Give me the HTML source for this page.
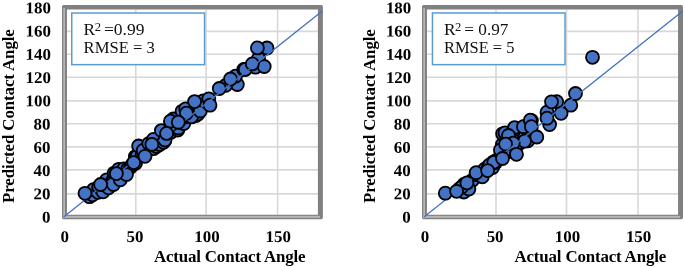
<!DOCTYPE html>
<html><head><meta charset="utf-8"><title>Predicted vs Actual Contact Angle</title>
<style>
html,body{margin:0;padding:0;background:#fff;}
svg{display:block;}
text{font-family:"Liberation Serif","Times New Roman",serif;fill:#000;}
.b{font-weight:bold;font-size:16.3px;}
.n{letter-spacing:0px;}
.t{font-size:16.6px;fill:#111;}
.m{fill:#4472c4;stroke:#000;stroke-width:1.8;}
.g{stroke:#d8d8d8;stroke-width:1.6;fill:none;}
</style></head><body>
<svg width="685" height="267" viewBox="0 0 685 267">
<rect width="685" height="267" fill="#fff"/>

<line class="g" x1="66.45" x2="317.90" y1="31.40" y2="31.40"/>
<line class="g" x1="66.45" x2="317.90" y1="54.30" y2="54.30"/>
<line class="g" x1="66.45" x2="317.90" y1="77.30" y2="77.30"/>
<line class="g" x1="66.45" x2="317.90" y1="100.90" y2="100.90"/>
<line class="g" x1="66.45" x2="317.90" y1="123.80" y2="123.80"/>
<line class="g" x1="66.45" x2="317.90" y1="146.90" y2="146.90"/>
<line class="g" x1="66.45" x2="317.90" y1="169.90" y2="169.90"/>
<line class="g" x1="66.45" x2="317.90" y1="193.90" y2="193.90"/>
<line class="g" x1="135.75" x2="135.75" y1="9.60" y2="214.70"/>
<line class="g" x1="206.10" x2="206.10" y1="9.60" y2="214.70"/>
<line class="g" x1="277.60" x2="277.60" y1="9.60" y2="214.70"/>
<path fill="#808080" fill-rule="evenodd" d="M63.60 5.10 H321.30 Q322.90 5.10 322.90 6.70 V217.55 Q322.90 219.15 321.30 219.15 H63.60 Q62.00 219.15 62.00 217.55 V6.70 Q62.00 5.10 63.60 5.10 Z M66.95 9.60 H317.90 V214.70 H66.95 Z"/>
<rect x="63.25" y="7.80" width="1.75" height="209.80" fill="#b6b6b6"/>
<rect x="63.25" y="215.90" width="256.75" height="1.95" fill="#b6b6b6"/>
<rect x="71.75" y="13.05" width="132.80" height="51.60" fill="#fff" stroke="#5b9bd5" stroke-width="1.5"/>
<text class="t" style="font-size:17.3px" x="83.6" y="34.8">R<tspan style="font-size:12.6px" dy="-4.3" dx="-0.5">2</tspan><tspan dy="4.3" dx="-1.3" style="font-size:17.5px"> =0.99</tspan></text>
<text class="t" x="83.6" y="53.4">RMSE = 3</text>
<circle class="m" cx="89.5" cy="196.7" r="6.5"/>
<circle class="m" cx="92.6" cy="194.8" r="6.5"/>
<circle class="m" cx="93.4" cy="189.7" r="6.5"/>
<circle class="m" cx="98.1" cy="192.3" r="6.5"/>
<circle class="m" cx="98.7" cy="186.9" r="6.5"/>
<circle class="m" cx="103.4" cy="185.1" r="6.5"/>
<circle class="m" cx="105.8" cy="183.3" r="6.5"/>
<circle class="m" cx="106.7" cy="179.8" r="6.5"/>
<circle class="m" cx="112.2" cy="181.3" r="6.5"/>
<circle class="m" cx="114.1" cy="178.8" r="6.5"/>
<circle class="m" cx="114.2" cy="173.1" r="6.5"/>
<circle class="m" cx="119.0" cy="173.6" r="6.5"/>
<circle class="m" cx="118.7" cy="169.3" r="6.5"/>
<circle class="m" cx="123.9" cy="168.8" r="6.5"/>
<circle class="m" cx="127.9" cy="168.9" r="6.5"/>
<circle class="m" cx="130.7" cy="167.1" r="6.5"/>
<circle class="m" cx="132.3" cy="164.8" r="6.5"/>
<circle class="m" cx="135.5" cy="163.3" r="6.5"/>
<circle class="m" cx="135.4" cy="156.6" r="6.5"/>
<circle class="m" cx="137.3" cy="156.0" r="6.5"/>
<circle class="m" cx="142.1" cy="154.0" r="6.5"/>
<circle class="m" cx="143.6" cy="151.7" r="6.5"/>
<circle class="m" cx="146.3" cy="150.2" r="6.5"/>
<circle class="m" cx="149.5" cy="149.3" r="6.5"/>
<circle class="m" cx="153.7" cy="148.6" r="6.5"/>
<circle class="m" cx="156.5" cy="146.5" r="6.5"/>
<circle class="m" cx="159.7" cy="144.5" r="6.5"/>
<circle class="m" cx="158.7" cy="138.6" r="6.5"/>
<circle class="m" cx="164.7" cy="140.3" r="6.5"/>
<circle class="m" cx="165.8" cy="136.2" r="6.5"/>
<circle class="m" cx="166.7" cy="132.6" r="6.5"/>
<circle class="m" cx="170.9" cy="132.2" r="6.5"/>
<circle class="m" cx="170.6" cy="128.2" r="6.5"/>
<circle class="m" cx="177.8" cy="130.1" r="6.5"/>
<circle class="m" cx="178.4" cy="128.0" r="6.5"/>
<circle class="m" cx="178.9" cy="122.3" r="6.5"/>
<circle class="m" cx="183.8" cy="123.5" r="6.5"/>
<circle class="m" cx="184.4" cy="117.1" r="6.5"/>
<circle class="m" cx="186.6" cy="115.3" r="6.5"/>
<circle class="m" cx="190.5" cy="114.6" r="6.5"/>
<circle class="m" cx="195.9" cy="115.6" r="6.5"/>
<circle class="m" cx="198.0" cy="114.1" r="6.5"/>
<circle class="m" cx="196.6" cy="107.6" r="6.5"/>
<circle class="m" cx="199.5" cy="105.0" r="6.5"/>
<circle class="m" cx="103.0" cy="191.8" r="6.5"/>
<circle class="m" cx="108.5" cy="187.8" r="6.5"/>
<circle class="m" cx="113.5" cy="184.5" r="6.5"/>
<circle class="m" cx="120.3" cy="179.8" r="6.5"/>
<circle class="m" cx="126.5" cy="174.5" r="6.5"/>
<circle class="m" cx="138.6" cy="146.0" r="6.5"/>
<circle class="m" cx="143.2" cy="150.4" r="6.5"/>
<circle class="m" cx="148.8" cy="143.6" r="6.5"/>
<circle class="m" cx="153.4" cy="139.4" r="6.5"/>
<circle class="m" cx="161.4" cy="130.6" r="6.5"/>
<circle class="m" cx="163.6" cy="142.3" r="6.5"/>
<circle class="m" cx="165.0" cy="140.0" r="6.5"/>
<circle class="m" cx="170.9" cy="124.8" r="6.5"/>
<circle class="m" cx="173.3" cy="119.0" r="6.5"/>
<circle class="m" cx="170.4" cy="121.2" r="6.5"/>
<circle class="m" cx="182.0" cy="111.3" r="6.5"/>
<circle class="m" cx="185.7" cy="108.8" r="6.5"/>
<circle class="m" cx="191.5" cy="116.9" r="6.5"/>
<circle class="m" cx="200.3" cy="111.0" r="6.5"/>
<circle class="m" cx="203.2" cy="100.8" r="6.5"/>
<circle class="m" cx="208.8" cy="98.8" r="6.5"/>
<circle class="m" cx="267.0" cy="48.0" r="6.5"/>
<circle class="m" cx="255.4" cy="67.2" r="6.5"/>
<circle class="m" cx="237.3" cy="84.5" r="6.5"/>
<circle class="m" cx="225.8" cy="85.3" r="6.5"/>
<circle class="m" cx="235.5" cy="76.2" r="6.5"/>
<circle class="m" cx="258.5" cy="58.5" r="6.5"/>
<circle class="m" cx="264.2" cy="66.5" r="6.5"/>
<circle class="m" cx="243.8" cy="69.4" r="6.5"/>
<circle class="m" cx="186.4" cy="113.2" r="6.5"/>
<circle class="m" cx="194.6" cy="101.6" r="6.5"/>
<circle class="m" cx="210.0" cy="105.2" r="6.5"/>
<circle class="m" cx="219.3" cy="88.5" r="6.5"/>
<circle class="m" cx="230.5" cy="79.0" r="6.5"/>
<circle class="m" cx="245.2" cy="69.4" r="6.5"/>
<circle class="m" cx="252.3" cy="63.9" r="6.5"/>
<circle class="m" cx="257.4" cy="47.9" r="6.5"/>
<line x1="64.20" y1="216.60" x2="322.00" y2="11.30" stroke="#4472c4" stroke-width="1.3" stroke-linecap="round"/>
<circle class="m" cx="85.0" cy="193.3" r="6.5"/>
<circle class="m" cx="100.6" cy="184.5" r="6.5"/>
<circle class="m" cx="116.4" cy="173.6" r="6.5"/>
<circle class="m" cx="133.7" cy="162.6" r="6.5"/>
<circle class="m" cx="145.0" cy="156.3" r="6.5"/>
<circle class="m" cx="151.9" cy="144.4" r="6.5"/>
<circle class="m" cx="166.6" cy="133.4" r="6.5"/>
<circle class="m" cx="178.3" cy="122.2" r="6.5"/>
<text class="b n" text-anchor="end" transform="translate(50.35,222.60) rotate(0.03) scale(1.04,1)">0</text>
<text class="b n" text-anchor="end" transform="translate(50.35,199.35) rotate(0.03) scale(1.04,1)">20</text>
<text class="b n" text-anchor="end" transform="translate(50.35,176.10) rotate(0.03) scale(1.04,1)">40</text>
<text class="b n" text-anchor="end" transform="translate(50.35,152.85) rotate(0.03) scale(1.04,1)">60</text>
<text class="b n" text-anchor="end" transform="translate(50.35,129.60) rotate(0.03) scale(1.04,1)">80</text>
<text class="b n" text-anchor="end" transform="translate(50.90,106.35) rotate(0.03) scale(1.04,1)">100</text>
<text class="b n" text-anchor="end" transform="translate(50.90,83.10) rotate(0.03) scale(1.04,1)">120</text>
<text class="b n" text-anchor="end" transform="translate(50.90,59.85) rotate(0.03) scale(1.04,1)">140</text>
<text class="b n" text-anchor="end" transform="translate(50.90,36.60) rotate(0.03) scale(1.04,1)">160</text>
<text class="b n" text-anchor="end" transform="translate(50.90,13.35) rotate(0.03) scale(1.04,1)">180</text>
<text class="b n" text-anchor="middle" transform="translate(64.80,242.00) rotate(0.03) scale(1.04,1)">0</text>
<text class="b n" text-anchor="middle" transform="translate(135.00,242.00) rotate(0.03) scale(1.04,1)">50</text>
<text class="b n" text-anchor="middle" transform="translate(207.00,242.00) rotate(0.03) scale(1.04,1)">100</text>
<text class="b n" text-anchor="middle" transform="translate(278.30,242.00) rotate(0.03) scale(1.04,1)">150</text>
<text class="b" style="font-size:16.9px" x="153.90" y="262" textLength="151.7" lengthAdjust="spacing">Actual Contact Angle</text>
<text class="b" style="font-size:16.9px" transform="translate(14.40,202.95) rotate(-90)" textLength="173.8" lengthAdjust="spacing">Predicted Contact Angle</text>
<line class="g" x1="426.45" x2="678.05" y1="31.40" y2="31.40"/>
<line class="g" x1="426.45" x2="678.05" y1="54.30" y2="54.30"/>
<line class="g" x1="426.45" x2="678.05" y1="77.30" y2="77.30"/>
<line class="g" x1="426.45" x2="678.05" y1="100.90" y2="100.90"/>
<line class="g" x1="426.45" x2="678.05" y1="123.80" y2="123.80"/>
<line class="g" x1="426.45" x2="678.05" y1="146.90" y2="146.90"/>
<line class="g" x1="426.45" x2="678.05" y1="169.90" y2="169.90"/>
<line class="g" x1="426.45" x2="678.05" y1="193.90" y2="193.90"/>
<line class="g" x1="496.00" x2="496.00" y1="9.60" y2="214.70"/>
<line class="g" x1="566.50" x2="566.50" y1="9.60" y2="214.70"/>
<line class="g" x1="638.00" x2="638.00" y1="9.60" y2="214.70"/>
<path fill="#808080" fill-rule="evenodd" d="M423.60 5.10 H681.40 Q683.00 5.10 683.00 6.70 V217.55 Q683.00 219.15 681.40 219.15 H423.60 Q422.00 219.15 422.00 217.55 V6.70 Q422.00 5.10 423.60 5.10 Z M426.95 9.60 H678.05 V214.70 H426.95 Z"/>
<rect x="423.25" y="7.80" width="1.75" height="209.80" fill="#b6b6b6"/>
<rect x="423.25" y="215.90" width="256.85" height="1.95" fill="#b6b6b6"/>
<rect x="432.45" y="12.95" width="132.60" height="51.70" fill="#fff" stroke="#5b9bd5" stroke-width="1.5"/>
<text class="t" style="font-size:17.3px" x="444.0" y="34.8">R<tspan style="font-size:12.6px" dy="-4.3" dx="-0.5">2</tspan><tspan dy="4.3" dx="-1.3" style="font-size:17.2px"> = 0.97</tspan></text>
<text class="t" style="font-size:16.45px" x="444.0" y="53.4">RMSE = 5</text>
<circle class="m" cx="459.3" cy="188.9" r="6.5"/>
<circle class="m" cx="463.9" cy="184.5" r="6.5"/>
<circle class="m" cx="467.7" cy="183.7" r="6.5"/>
<circle class="m" cx="472.4" cy="180.2" r="6.5"/>
<circle class="m" cx="477.0" cy="174.7" r="6.5"/>
<circle class="m" cx="480.1" cy="172.7" r="6.5"/>
<circle class="m" cx="484.7" cy="169.2" r="6.5"/>
<circle class="m" cx="488.5" cy="166.3" r="6.5"/>
<circle class="m" cx="493.3" cy="162.1" r="6.5"/>
<circle class="m" cx="496.4" cy="160.3" r="6.5"/>
<circle class="m" cx="502.4" cy="144.5" r="6.5"/>
<circle class="m" cx="507.1" cy="143.3" r="6.5"/>
<circle class="m" cx="506.5" cy="138.6" r="6.5"/>
<circle class="m" cx="511.5" cy="140.7" r="6.5"/>
<circle class="m" cx="513.6" cy="139.5" r="6.5"/>
<circle class="m" cx="514.4" cy="133.5" r="6.5"/>
<circle class="m" cx="518.8" cy="134.3" r="6.5"/>
<circle class="m" cx="520.8" cy="131.7" r="6.5"/>
<circle class="m" cx="525.2" cy="132.4" r="6.5"/>
<circle class="m" cx="523.5" cy="126.9" r="6.5"/>
<circle class="m" cx="510.6" cy="151.6" r="6.5"/>
<circle class="m" cx="511.0" cy="147.8" r="6.5"/>
<circle class="m" cx="513.9" cy="145.0" r="6.5"/>
<circle class="m" cx="516.2" cy="143.4" r="6.5"/>
<circle class="m" cx="519.9" cy="143.1" r="6.5"/>
<circle class="m" cx="521.8" cy="140.3" r="6.5"/>
<circle class="m" cx="524.3" cy="136.3" r="6.5"/>
<circle class="m" cx="528.9" cy="138.3" r="6.5"/>
<circle class="m" cx="463.8" cy="192.0" r="6.5"/>
<circle class="m" cx="468.9" cy="189.0" r="6.5"/>
<circle class="m" cx="461.7" cy="187.1" r="6.5"/>
<circle class="m" cx="466.9" cy="182.9" r="6.5"/>
<circle class="m" cx="482.3" cy="176.8" r="6.5"/>
<circle class="m" cx="492.6" cy="167.5" r="6.5"/>
<circle class="m" cx="495.7" cy="162.6" r="6.5"/>
<circle class="m" cx="489.8" cy="164.8" r="6.5"/>
<circle class="m" cx="493.8" cy="162.4" r="6.5"/>
<circle class="m" cx="504.0" cy="152.0" r="6.5"/>
<circle class="m" cx="500.4" cy="149.9" r="6.5"/>
<circle class="m" cx="502.6" cy="133.8" r="6.5"/>
<circle class="m" cx="505.0" cy="132.9" r="6.5"/>
<circle class="m" cx="509.9" cy="138.2" r="6.5"/>
<circle class="m" cx="512.9" cy="132.4" r="6.5"/>
<circle class="m" cx="514.6" cy="127.6" r="6.5"/>
<circle class="m" cx="514.3" cy="144.8" r="6.5"/>
<circle class="m" cx="516.4" cy="144.3" r="6.5"/>
<circle class="m" cx="523.4" cy="126.7" r="6.5"/>
<circle class="m" cx="531.4" cy="120.6" r="6.5"/>
<circle class="m" cx="530.3" cy="120.2" r="6.5"/>
<circle class="m" cx="527.8" cy="140.8" r="6.5"/>
<circle class="m" cx="524.5" cy="141.2" r="6.5"/>
<circle class="m" cx="512.0" cy="139.0" r="6.5"/>
<circle class="m" cx="508.5" cy="135.5" r="6.5"/>
<circle class="m" cx="513.2" cy="143.1" r="6.5"/>
<circle class="m" cx="549.6" cy="124.6" r="6.5"/>
<circle class="m" cx="547.0" cy="112.2" r="6.5"/>
<circle class="m" cx="556.7" cy="101.7" r="6.5"/>
<circle class="m" cx="570.8" cy="105.2" r="6.5"/>
<circle class="m" cx="516.5" cy="154.3" r="6.5"/>
<circle class="m" cx="505.6" cy="144.1" r="6.5"/>
<circle class="m" cx="531.4" cy="126.7" r="6.5"/>
<circle class="m" cx="536.8" cy="137.0" r="6.5"/>
<circle class="m" cx="547.0" cy="118.2" r="6.5"/>
<circle class="m" cx="551.5" cy="101.8" r="6.5"/>
<circle class="m" cx="561.1" cy="113.3" r="6.5"/>
<circle class="m" cx="575.5" cy="93.5" r="6.5"/>
<circle class="m" cx="592.5" cy="57.3" r="6.5"/>
<line x1="424.60" y1="216.50" x2="682.50" y2="11.20" stroke="#4472c4" stroke-width="1.3" stroke-linecap="round"/>
<circle class="m" cx="445.3" cy="193.2" r="6.5"/>
<circle class="m" cx="456.6" cy="191.3" r="6.5"/>
<circle class="m" cx="476.1" cy="172.7" r="6.5"/>
<circle class="m" cx="487.6" cy="170.6" r="6.5"/>
<circle class="m" cx="502.5" cy="158.5" r="6.5"/>
<text class="b n" text-anchor="end" transform="translate(410.75,222.60) rotate(0.03) scale(1.04,1)">0</text>
<text class="b n" text-anchor="end" transform="translate(410.75,199.35) rotate(0.03) scale(1.04,1)">20</text>
<text class="b n" text-anchor="end" transform="translate(410.75,176.10) rotate(0.03) scale(1.04,1)">40</text>
<text class="b n" text-anchor="end" transform="translate(410.75,152.85) rotate(0.03) scale(1.04,1)">60</text>
<text class="b n" text-anchor="end" transform="translate(410.75,129.60) rotate(0.03) scale(1.04,1)">80</text>
<text class="b n" text-anchor="end" transform="translate(411.30,106.35) rotate(0.03) scale(1.04,1)">100</text>
<text class="b n" text-anchor="end" transform="translate(411.30,83.10) rotate(0.03) scale(1.04,1)">120</text>
<text class="b n" text-anchor="end" transform="translate(411.30,59.85) rotate(0.03) scale(1.04,1)">140</text>
<text class="b n" text-anchor="end" transform="translate(411.30,36.60) rotate(0.03) scale(1.04,1)">160</text>
<text class="b n" text-anchor="end" transform="translate(411.30,13.35) rotate(0.03) scale(1.04,1)">180</text>
<text class="b n" text-anchor="middle" transform="translate(424.90,242.00) rotate(0.03) scale(1.04,1)">0</text>
<text class="b n" text-anchor="middle" transform="translate(495.10,242.00) rotate(0.03) scale(1.04,1)">50</text>
<text class="b n" text-anchor="middle" transform="translate(567.40,242.00) rotate(0.03) scale(1.04,1)">100</text>
<text class="b n" text-anchor="middle" transform="translate(638.60,242.00) rotate(0.03) scale(1.04,1)">150</text>
<text class="b" style="font-size:16.9px" x="514.50" y="262" textLength="151.7" lengthAdjust="spacing">Actual Contact Angle</text>
<text class="b" style="font-size:16.9px" transform="translate(374.90,202.95) rotate(-90)" textLength="173.8" lengthAdjust="spacing">Predicted Contact Angle</text>
</svg></body></html>
